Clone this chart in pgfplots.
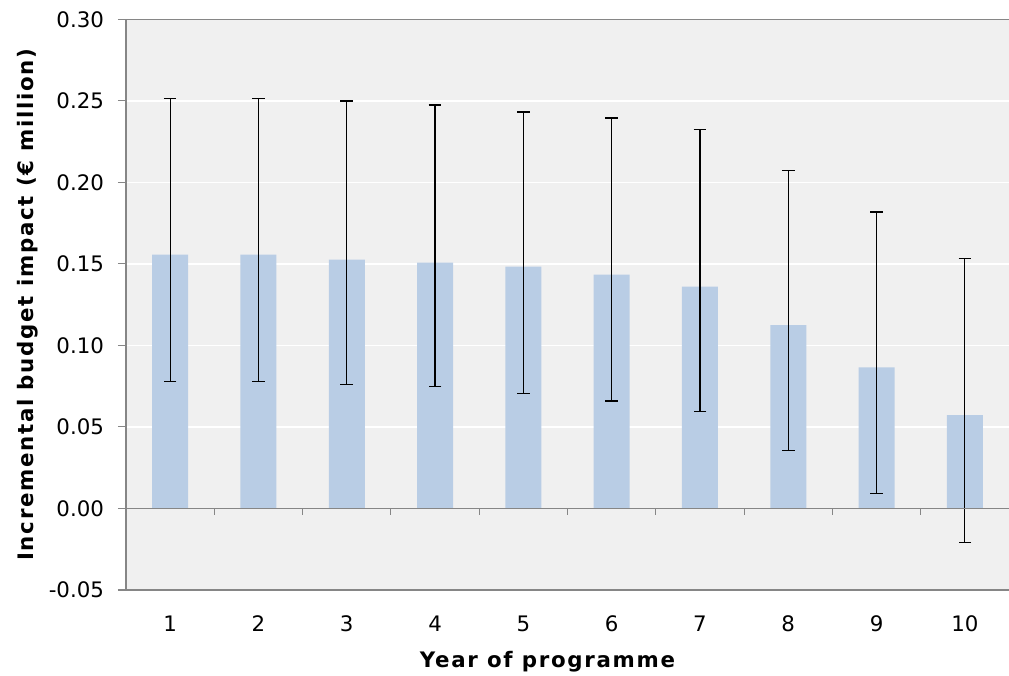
\documentclass[border=0pt]{standalone}
\usepackage{pgfplots}
\pgfplotsset{compat=1.18}
\usepackage{fontspec}
\setmainfont{DejaVu Sans}
\newfontfamily\lblfont[LetterSpace=8]{DejaVu Sans Bold}
\definecolor{bgc}{HTML}{F0F0F0}
\definecolor{barc}{HTML}{B9CDE5}
\definecolor{axc}{HTML}{868686}
\begin{document}
\begin{tikzpicture}
\begin{axis}[
  scale only axis,
  width=662.25pt, height=428pt,
  xmin=0.5, xmax=10.5,
  ymin=-0.05, ymax=0.30,
  axis x line=box, axis y line=left,
  axis line style={-, axc, line width=0.8pt},
  axis background/.style={fill=bgc},
  xtick={1,...,10},
  xtick style={draw=none},
  ytick={-0.05,0,0.05,0.10,0.15,0.20,0.25,0.30},
  ytick style={axc, line width=0.8pt},
  tick align=outside,
  major tick length=6pt,
  ymajorgrids,
  grid style={white, line width=1pt},
  font=\fontsize{16}{19}\selectfont,
  /pgf/number format/assume math mode=true,
  yticklabel style={xshift=-7pt, /pgf/number format/fixed, /pgf/number format/fixed zerofill, /pgf/number format/precision=2},
  xticklabel style={yshift=-10pt},
  every axis y label/.style={at={(axis description cs:0,0.5)}, anchor=center, xshift=-73.5pt, rotate=90, font=\lblfont\fontsize{16}{19}\selectfont},
  every axis x label/.style={at={(axis description cs:0.5,0)}, anchor=center, yshift=-54pt, xshift=-15pt, font=\lblfont\fontsize{16}{19}\selectfont},
  ylabel={Incremental budget impact (€ million)},
  xlabel={Year of programme},
  clip=false,
]
\coordinate (sw) at (rel axis cs:0,0);
\coordinate (ne) at (rel axis cs:1,1);
\addplot[ybar, bar width=27pt, fill=barc, draw=none,
  error bars/.cd, y dir=both, y explicit,
  error mark=-, error mark options={rotate=90, black, mark size=4.75pt, line width=0.9pt},
  error bar style={black, line width=0.9pt}]
coordinates {
(1,0.1557) += (0,0.0956) -= (0,0.0777)
(2,0.1557) += (0,0.0956) -= (0,0.0777)
(3,0.1527) += (0,0.0972) -= (0,0.0766)
(4,0.1508) += (0,0.0967) -= (0,0.0759)
(5,0.1484) += (0,0.0948) -= (0,0.0778)
(6,0.1435) += (0,0.0960) -= (0,0.0776)
(7,0.1361) += (0,0.0961) -= (0,0.0765)
(8,0.1124) += (0,0.0947) -= (0,0.0767)
(9,0.0865) += (0,0.0953) -= (0,0.0771)
(10,0.0572) += (0,0.0960) -= (0,0.0782)
};
\draw[axc, line width=0.8pt] (axis cs:0.5,0) -- (axis cs:10.5,0);
\pgfplotsinvokeforeach{1.5,2.5,3.5,4.5,5.5,6.5,7.5,8.5,9.5}{
  \draw[axc, line width=0.8pt] (axis cs:#1,0) -- ([yshift=-5pt]axis cs:#1,0);
}
\end{axis}
\pgfresetboundingbox
\path ([shift={(-94.5pt,-63.75pt)}]sw) rectangle ([shift={(0pt,14.5pt)}]ne);
\end{tikzpicture}
\end{document}
